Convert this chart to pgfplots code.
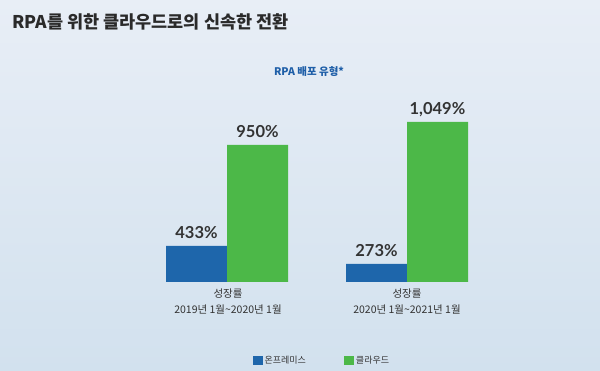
\documentclass[border=0pt]{standalone}
\usepackage{fontspec}
\setmainfont{Noto Sans CJK KR}
\newfontfamily\numfont{Lato}
\usepackage{pgfplots}
\usepackage{pgfplotstable}
\pgfplotsset{compat=1.18}
\definecolor{bgtop}{HTML}{E8EEF6}
\definecolor{bgbot}{HTML}{D2E1EE}
\definecolor{titlecol}{HTML}{2A2A2A}
\definecolor{subcol}{HTML}{1F5FA8}
\definecolor{onprem}{HTML}{1E66AB}
\definecolor{cloud}{HTML}{4CB848}
\definecolor{labcol}{HTML}{333333}

% bar heights as drawn (labels give the printed growth rates)
\pgfplotstableread{
x   onprem  onlbl  cloud  cllbl
227 236     433    898    950
407 118     273    1049   1,049
}\datatable

\begin{document}
\begin{tikzpicture}[x=1pt,y=1pt]
\shade[top color=bgtop, bottom color=bgbot] (0,0) rectangle (600,371);
\useasboundingbox (0,0) rectangle (600,371);
\node[anchor=west, inner sep=0pt, font=\bfseries\fontsize{17.5}{20}\selectfont, text=titlecol] at (12,349) {RPA를 위한 클라우드로의 신속한 전환};
\node[anchor=center, inner sep=0pt, font=\bfseries\fontsize{10.5}{12}\selectfont, text=subcol] at (309,299) {RPA 배포 유형*};
\begin{axis}[
  at={(150pt,89pt)}, anchor=south west,
  scale only axis, width=350pt, height=182pt,
  xmin=150, xmax=500, ymin=0, ymax=1193,
  ybar=0pt, bar width=61pt,
  axis line style={draw=none},
  tick style={draw=none},
  major tick length=0pt,
  ytick=\empty,
  xtick={228,407},
  xticklabels={{성장률\\2019년 1월\textasciitilde 2020년 1월},{성장률\\2020년 1월\textasciitilde 2021년 1월}},
  xticklabel style={align=center, font=\fontsize{10.5}{16}\selectfont, text=labcol, yshift=-3pt},
  point meta=explicit symbolic,
  nodes near coords={\pgfplotspointmeta\%},
  every node near coord/.append style={anchor=base, yshift=7.5pt, inner sep=0pt, font=\numfont\bfseries\fontsize{16.5}{18}\selectfont, text=labcol},
  legend columns=2,
  legend style={draw=none, fill=none, at={(0.491,-0.434)}, anchor=center, font=\fontsize{9}{10}\selectfont, text=labcol,
    /tikz/every even column/.append style={column sep=36pt}},
  legend image code/.code={\fill[#1] (0pt,-4.5pt) rectangle (10pt,5pt);},
]
\addplot[fill=onprem, draw=none] table[x=x, y=onprem, meta=onlbl] {\datatable};
\addplot[fill=cloud, draw=none] table[x=x, y=cloud, meta=cllbl] {\datatable};
\legend{온프레미스, 클라우드}
\end{axis}
\end{tikzpicture}
\end{document}
